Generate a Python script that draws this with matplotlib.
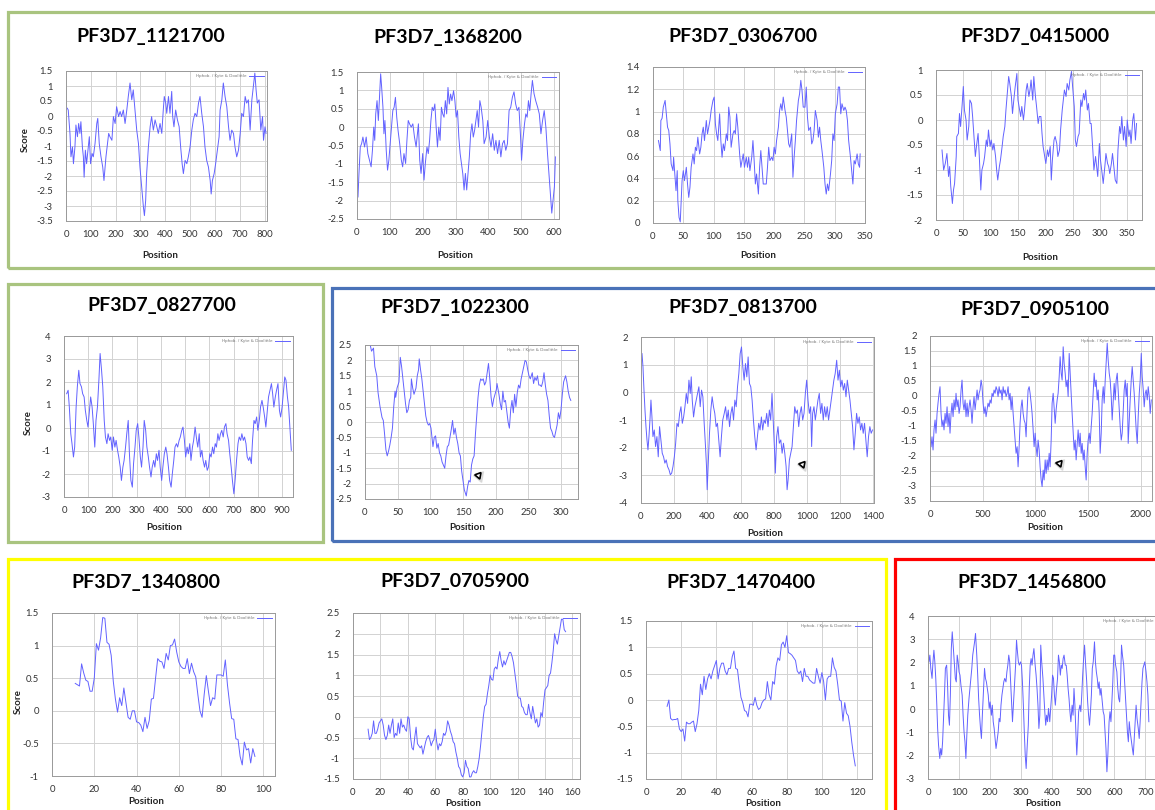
import matplotlib
matplotlib.use("Agg")
import matplotlib.pyplot as plt
from matplotlib.patches import Rectangle
from matplotlib.lines import Line2D

plt.rcParams["font.family"] = ["Lato", "DejaVu Sans"]
plt.rcParams["axes.unicode_minus"] = False

# Kyte & Doolittle hydropathy profiles
pos_1121700 = [5, 9, 16, 20, 26, 30, 36, 40, 46, 51, 56, 60, 66, 70, 73, 78, 83, 90, 94, 99,
               105, 110, 117, 124, 128, 134, 141, 148, 153, 161, 167, 172, 177, 185, 191, 198, 204, 212, 218, 224,
               231, 238, 245, 251, 258, 265, 271, 278, 285, 292, 298, 305, 312, 316, 321, 325, 332, 339, 345, 352,
               359, 366, 372, 379, 386, 392, 396, 402, 406, 413, 419, 426, 430, 435, 442, 449, 456, 462, 468, 473,
               480, 487, 493, 500, 507, 513, 520, 527, 534, 540, 547, 554, 560, 567, 574, 581, 585, 590, 597, 603,
               610, 617, 621, 628, 634, 641, 648, 655, 661, 668, 675, 681, 688, 695, 702, 708, 715, 722, 728, 735,
               742, 749, 755, 761, 766, 771, 778, 785, 792, 796, 802, 806]
kd_1121700 = [0.26, 0.20, -0.58, -1.36, -1.03, -1.59, -1.03, -0.30, -0.69, -0.25, -0.58, -0.19, -1.03, -1.36, -2.04, -1.14, -1.59, -1.03, -0.69, -1.59,
              -1.25, -1.36, -0.92, -0.25, -0.08, -0.92, -1.36, -1.70, -2.15, -1.36, -0.92, -0.58, -0.69, -0.81, -0.02, -0.25, 0.31, -0.02, 0.15, -0.02,
              0.20, -0.25, 0.20, 0.65, 1.10, 0.54, 0.87, 0.20, -0.47, -0.92, -1.70, -2.37, -3.04, -3.32, -2.82, -1.92, -1.03, -0.36, -0.02, -0.47,
              -0.13, -0.36, -0.58, -0.25, -0.58, 0.20, 0.65, 0.43, 0.09, 0.65, 0.09, 0.82, -0.02, -0.36, 0.20, -0.13, -0.36, -1.03, -1.59, -1.92,
              -1.48, -1.59, -1.36, -1.03, -0.47, -0.13, 0.09, -0.02, 0.43, 0.65, 0.09, -0.36, -1.03, -1.48, -1.70, -2.15, -2.60, -2.15, -1.92, -1.59,
              -1.14, -0.69, 0.20, 0.54, 1.10, 0.65, 0.31, -0.36, -0.81, -0.47, -0.58, -1.03, -1.36, -1.14, -0.58, 0.09, -0.02, 0.65, 0.43, 0.54,
              -0.47, 0.54, 0.98, 1.43, 0.87, 0.43, 0.54, -0.47, -0.02, -0.81, -0.36, -0.58]

pos_1368200 = [3, 6, 10, 14, 18, 23, 28, 33, 38, 43, 47, 51, 54, 57, 61, 65, 69, 72, 75, 79,
               82, 85, 89, 93, 97, 101, 105, 109, 113, 117, 121, 125, 130, 135, 139, 143, 148, 152, 156, 160,
               165, 170, 175, 180, 184, 187, 191, 195, 200, 204, 208, 213, 217, 221, 225, 229, 233, 237, 241, 245,
               249, 253, 257, 261, 265, 269, 273, 277, 281, 285, 289, 294, 298, 302, 306, 310, 314, 318, 322, 326,
               330, 334, 338, 342, 346, 350, 354, 358, 362, 366, 370, 374, 378, 383, 387, 393, 398, 403, 408, 413,
               418, 423, 428, 433, 438, 443, 448, 453, 458, 463, 468, 473, 478, 483, 488, 493, 498, 501, 505, 510,
               514, 518, 522, 526, 530, 534, 539, 544, 550, 555, 560, 565, 570, 575, 580, 585, 590, 593, 597, 601, 604]
kd_1368200 = [-1.90, -1.26, -0.54, -0.45, -0.27, -0.54, -0.27, -0.72, -0.90, -1.08, -0.63, 0.0, -0.36, 0.36, 0.72, 0.18, 0.90, 1.45, 1.09, 0.54,
              -0.18, 0.18, -0.63, -1.17, -0.90, -0.45, 0.0, 0.45, 0.54, 0.81, 0.27, -0.09, -0.45, -0.90, -1.08, -0.72, -0.99, -0.36, 0.18, 0.09,
              0.0, 0.09, -0.27, -0.54, -0.18, 0.09, -0.90, -1.26, -0.72, -1.44, -0.99, -0.54, -0.72, -0.36, 0.18, 0.54, 0.45, 0.63, 0.0, -0.54,
              0.0, -0.36, 0.54, 0.36, 0.27, 0.72, 0.36, 1.08, 0.63, 0.90, 0.72, 0.99, 0.72, 0.27, 0.45, -0.27, -0.72, -0.99, -1.26, -1.71,
              -1.26, -1.71, -1.26, -0.81, -0.18, 0.09, -0.27, -0.09, 0.18, 0.45, 0.0, 0.72, 0.54, 0.18, -0.45, -0.27, 0.18, -0.27, -0.54, -0.18,
              -0.63, -0.36, -0.72, -0.36, -0.81, -0.45, -0.36, -0.63, -0.45, 0.45, 0.54, 0.81, 0.96, 0.63, 0.45, 0.54, -0.27, -0.90, -0.36, 0.09,
              0.36, 0.27, 0.72, 0.45, 0.90, 1.27, 0.91, 0.72, 0.54, 0.36, -0.18, 0.18, 0.45, 0.0, -0.72, -1.35, -1.98, -2.34, -1.98, -1.62, -0.81]

pos_0306700 = [9, 12, 13, 15, 17, 20, 21, 24, 26, 28, 30, 33, 34, 36, 38, 40, 41, 43, 45, 46,
               48, 50, 52, 55, 57, 59, 61, 63, 66, 68, 70, 72, 74, 77, 79, 81, 83, 85, 88, 90,
               92, 94, 96, 99, 101, 103, 105, 107, 110, 112, 114, 116, 118, 121, 123, 125, 127, 129, 132, 134,
               136, 138, 140, 143, 145, 147, 149, 151, 154, 156, 158, 160, 163, 165, 167, 169, 171, 174, 176, 178,
               180, 182, 185, 187, 189, 191, 193, 196, 198, 200, 202, 204, 207, 209, 211, 213, 215, 218, 220, 222,
               224, 226, 229, 231, 233, 235, 237, 240, 242, 244, 246, 248, 251, 253, 255, 257, 260, 262, 264, 266,
               268, 271, 273, 275, 277, 279, 282, 284, 286, 288, 290, 293, 295, 297, 299, 301, 304, 306, 308, 310,
               312, 315, 317, 319, 321, 323, 326, 328, 330, 332, 334, 337, 339, 341, 342]
kd_0306700 = [0.74, 0.65, 0.92, 0.94, 1.04, 1.10, 1.04, 0.86, 0.83, 0.71, 0.53, 0.47, 0.59, 0.44, 0.29, 0.47, 0.20, 0.05, 0.01, 0.14,
              0.38, 0.47, 0.38, 0.50, 0.35, 0.23, 0.32, 0.50, 0.62, 0.53, 0.68, 0.65, 0.77, 0.62, 0.68, 0.80, 0.86, 0.74, 0.92, 0.80,
              0.86, 0.92, 1.01, 1.10, 1.13, 0.89, 0.80, 0.74, 0.98, 0.74, 0.59, 0.71, 0.65, 0.80, 0.74, 1.04, 0.95, 0.68, 0.80, 0.83,
              0.80, 0.98, 0.86, 0.62, 0.50, 0.56, 0.62, 0.50, 0.59, 0.50, 0.59, 0.47, 0.59, 0.74, 0.56, 0.35, 0.44, 0.26, 0.50, 0.65,
              0.50, 0.35, 0.35, 0.35, 0.50, 0.68, 0.56, 0.59, 0.56, 0.68, 0.62, 0.74, 0.86, 1.01, 1.07, 1.01, 1.13, 1.01, 0.95, 0.83,
              0.71, 0.68, 0.80, 0.41, 0.59, 0.74, 0.92, 1.10, 1.16, 1.28, 1.19, 1.04, 1.04, 1.22, 0.95, 0.83, 0.86, 0.71, 0.74, 0.83,
              1.01, 0.92, 0.77, 0.86, 0.74, 0.65, 0.50, 0.35, 0.26, 0.35, 0.29, 0.44, 0.56, 0.80, 0.74, 0.98, 1.07, 1.22, 1.22, 0.98,
              1.07, 1.01, 1.04, 1.01, 0.92, 0.74, 0.59, 0.47, 0.35, 0.56, 0.53, 0.62, 0.53, 0.50, 0.62]

pos_0415000 = [11, 14, 17, 20, 23, 25, 27, 30, 32, 34, 37, 38, 41, 43, 45, 48, 50, 52, 55, 57,
               60, 62, 65, 67, 70, 72, 74, 77, 79, 82, 84, 87, 89, 92, 94, 96, 99, 101, 104, 106,
               109, 111, 113, 116, 118, 121, 123, 126, 128, 131, 133, 135, 138, 140, 143, 145, 148, 150, 153, 155,
               157, 160, 162, 165, 167, 170, 172, 174, 177, 179, 182, 184, 187, 189, 192, 194, 196, 199, 201, 204,
               206, 209, 211, 213, 216, 218, 221, 223, 226, 228, 231, 233, 235, 238, 240, 243, 245, 248, 250, 253,
               255, 257, 260, 262, 265, 267, 270, 272, 274, 277, 279, 282, 284, 287, 289, 292, 294, 296, 299, 301,
               304, 306, 309, 311, 314, 316, 318, 321, 323, 326, 328, 331, 333, 336, 338, 340, 343, 345, 348, 350,
               353, 355, 357, 360, 362, 365, 367]
kd_0415000 = [-0.60, -1.00, -0.87, -0.67, -1.13, -0.93, -1.33, -1.67, -1.40, -1.27, -0.73, -0.33, -0.27, 0.13, -0.13, 0.33, 0.67, 0.20, 0.0, -0.40,
              -0.13, 0.40, 0.33, 0.07, -0.40, -0.73, -0.53, -0.27, -0.67, -1.40, -1.00, -0.87, -0.73, -0.40, -0.53, -0.20, -0.53, -0.40, -0.60, -0.47,
              -0.73, -1.00, -1.20, -0.93, -0.80, -0.53, -0.33, -0.13, 0.20, 0.60, 0.87, 0.73, 0.47, 0.13, 0.47, 0.67, 0.93, 0.40, 0.20, 0.07,
              0.27, 0.0, 0.20, 0.60, 0.73, 0.47, 0.60, 0.80, 0.40, 0.87, 0.47, 0.27, -0.07, 0.07, 0.07, -0.27, -0.53, -0.73, -0.87, -0.60,
              -0.73, -0.53, -1.20, -0.80, -0.40, -0.33, -0.47, -0.73, -0.60, -0.20, 0.20, 0.40, 0.60, 0.47, 0.73, 0.60, 0.80, 0.97, 0.67, 0.27,
              -0.40, -0.53, -0.33, -0.27, 0.40, 0.27, 0.53, 0.40, 0.60, 0.20, 0.33, -0.07, -0.07, -0.60, -1.00, -0.73, -0.93, -1.13, -0.47, -0.80,
              -1.07, -1.27, -0.93, -0.67, -0.87, -0.93, -1.07, -0.87, -0.67, -1.00, -1.20, -1.27, -0.60, -0.13, -0.27, 0.07, -0.40, -0.13, -0.53, 0.0,
              -0.33, -0.20, -0.47, 0.0, 0.13, -0.40, -0.07]

pos_0827700 = [11, 17, 22, 28, 33, 39, 44, 50, 55, 61, 66, 72, 77, 83, 88, 94, 99, 105, 110, 116,
               121, 127, 132, 138, 144, 149, 155, 160, 166, 171, 177, 182, 188, 193, 199, 204, 210, 215, 221, 226,
               232, 237, 243, 248, 254, 259, 265, 270, 276, 282, 287, 293, 298, 304, 309, 315, 320, 326, 331, 337,
               342, 348, 353, 359, 364, 370, 375, 381, 386, 392, 397, 403, 408, 414, 420, 425, 431, 436, 442, 447,
               453, 458, 464, 469, 475, 480, 486, 491, 497, 502, 508, 513, 519, 524, 530, 535, 541, 546, 552, 558,
               563, 569, 574, 580, 585, 591, 596, 602, 607, 613, 618, 624, 629, 635, 640, 646, 651, 657, 662, 668,
               673, 679, 684, 690, 695, 701, 706, 712, 718, 723, 729, 734, 740, 745, 751, 756, 762, 767, 773, 778,
               784, 789, 795, 800, 806, 811, 817, 822, 828, 833, 839, 844, 850, 856, 861, 866, 872, 877, 883, 889,
               894, 900, 905, 911, 916, 922, 927, 933, 938]
kd_0827700 = [1.49, 1.64, 0.91, -0.25, -0.68, -1.26, -0.83, 0.91, 1.79, 2.51, 1.93, 1.79, 1.49, 1.35, 0.77, 0.33, 0.04, 0.77, 1.35, 0.91,
              0.19, -0.83, 0.33, 0.91, 2.08, 3.24, 2.51, 1.79, 0.33, -0.39, -0.68, -0.25, -0.54, -0.39, -0.97, -0.39, -0.83, -0.54, -0.97, -1.26,
              -1.70, -2.28, -1.70, -1.41, -0.83, -0.25, 0.33, -1.12, -2.28, -2.57, -1.55, -0.83, -0.10, 0.19, -0.39, -1.26, -1.70, -0.83, 0.33, -0.10,
              -0.83, -1.26, -1.70, -2.13, -1.70, -1.41, -1.70, -1.12, -1.41, -0.97, -1.70, -2.28, -1.70, -1.12, -0.83, -1.12, -1.70, -2.28, -2.57, -1.99,
              -1.41, -0.83, -0.68, -0.83, -0.54, -0.39, -0.10, 0.04, -0.54, -1.26, -0.83, -1.12, -0.68, -1.41, -0.83, -0.54, 0.04, -0.39, -0.83, -0.25,
              -1.26, -0.97, -1.41, -1.70, -1.41, -1.84, -1.70, -1.12, -1.26, -0.83, -1.12, -0.68, -0.83, -0.25, -0.54, -0.25, -0.10, -0.39, 0.04, 0.19,
              -0.25, -0.54, -1.12, -1.70, -2.28, -2.86, -2.28, -1.41, -0.68, -0.39, -0.54, -0.25, -0.54, -0.39, -0.68, -1.26, -1.41, -1.26, -1.55, -0.54,
              0.33, 0.19, 0.48, -0.10, 0.33, 0.91, 1.20, 0.91, 0.48, 0.04, 0.77, 1.35, 1.64, 1.93, 1.49, 0.91, 1.35, 1.64, 1.93, 0.77,
              0.48, 0.91, 1.49, 2.22, 2.08, 1.35, 0.91, -0.10, -0.97]

pos_1022300 = [8, 10, 13, 15, 18, 20, 23, 26, 28, 30, 32, 34, 36, 38, 40, 42, 44, 46, 47, 49,
               52, 54, 56, 58, 60, 62, 64, 66, 68, 70, 71, 73, 75, 78, 80, 82, 83, 85, 87, 89,
               91, 93, 95, 97, 99, 101, 104, 106, 108, 110, 112, 114, 116, 118, 120, 122, 124, 126, 128, 130,
               132, 134, 136, 138, 140, 142, 144, 146, 148, 150, 152, 155, 157, 159, 161, 163, 165, 167, 169, 171,
               173, 175, 177, 179, 181, 183, 185, 187, 189, 191, 193, 195, 197, 199, 201, 202, 205, 207, 209, 211,
               213, 215, 217, 219, 221, 223, 225, 227, 229, 231, 233, 235, 237, 239, 241, 243, 245, 247, 249, 251,
               253, 256, 258, 260, 262, 264, 266, 268, 270, 272, 274, 276, 278, 280, 282, 284, 286, 288, 290, 292,
               294, 296, 298, 300, 302, 304, 307, 309, 311, 313, 315]
kd_1022300 = [2.50, 2.30, 2.40, 1.80, 1.50, 0.95, 0.50, 0.15, 0.05, -0.40, -0.90, -1.10, -0.95, -0.75, -0.50, -0.20, 0.50, 1.00, 0.80, 1.10,
              1.30, 2.10, 1.80, 1.40, 1.00, 0.60, 0.30, 0.40, 0.70, 0.80, 1.40, 1.10, 0.90, 1.10, 1.50, 1.70, 2.05, 1.70, 1.40, 1.00,
              0.60, 0.20, 0.00, -0.10, -0.05, -0.20, -0.80, -0.50, -0.45, -0.85, -0.70, -1.00, -1.10, -1.30, -1.40, -1.50, -1.10, -0.80, -0.75, -0.50,
              -0.25, 0.05, -0.40, -0.20, -0.50, -0.70, -1.00, -1.10, -1.60, -1.90, -2.20, -2.40, -2.10, -1.90, -1.95, -1.40, -1.20, -1.10, -0.40, 0.20,
              0.80, 1.20, 1.40, 1.35, 1.40, 1.20, 1.30, 1.60, 1.90, 1.40, 0.80, 0.50, 0.75, 0.90, 1.05, 1.25, 0.90, 0.60, 0.40, 1.00,
              0.65, 0.70, 0.35, 0.00, -0.20, 0.40, 0.70, 0.30, 0.90, 0.50, 0.95, 1.20, 1.10, 1.40, 1.60, 1.80, 2.00, 1.95, 1.70, 1.50,
              1.40, 1.60, 1.25, 1.45, 1.35, 1.50, 1.20, 1.20, 1.15, 1.30, 1.60, 1.20, 0.90, 0.70, 0.20, -0.20, -0.30, -0.45, -0.50, -0.30,
              -0.10, 0.30, 0.10, 0.40, 0.90, 1.30, 1.50, 1.30, 1.00, 0.80, 0.70]

pos_0813700 = [6, 12, 18, 24, 30, 36, 42, 48, 54, 60, 66, 72, 80, 88, 96, 104, 112, 120, 128, 136,
               144, 152, 160, 169, 177, 185, 193, 201, 209, 217, 225, 233, 241, 249, 257, 265, 273, 281, 289, 297,
               303, 309, 317, 325, 333, 341, 349, 357, 365, 373, 381, 389, 395, 399, 405, 413, 421, 429, 437, 445,
               453, 461, 469, 477, 485, 493, 502, 510, 518, 526, 534, 542, 550, 558, 566, 574, 582, 590, 598, 606,
               614, 622, 630, 638, 646, 654, 662, 670, 678, 686, 694, 702, 710, 718, 726, 734, 742, 750, 758, 766,
               774, 782, 790, 798, 806, 810, 818, 826, 834, 843, 851, 859, 867, 875, 881, 887, 895, 903, 911, 919,
               927, 935, 943, 951, 959, 967, 975, 983, 991, 999, 1007, 1015, 1023, 1029, 1035, 1043, 1051, 1059, 1067, 1075,
               1083, 1091, 1099, 1107, 1115, 1123, 1131, 1139, 1147, 1155, 1163, 1171, 1180, 1188, 1196, 1204, 1212, 1220, 1228, 1236,
               1244, 1252, 1260, 1268, 1276, 1284, 1292, 1300, 1308, 1316, 1324, 1332, 1340, 1348, 1356, 1364, 1372, 1380, 1388, 1396]
kd_0813700 = [1.40, 0.92, 0.08, -0.64, -1.24, -1.72, -2.08, -1.60, -1.00, -0.28, -0.89, -1.60, -1.36, -1.96, -1.60, -2.33, -1.24, -1.72, -2.20, -2.33,
              -2.56, -2.44, -2.68, -2.80, -2.98, -2.92, -2.68, -2.33, -1.84, -1.12, -1.24, -0.76, -0.52, -1.12, -0.89, -0.52, -0.04, -0.40, 0.44, -0.04,
              0.56, -0.28, -0.89, -0.52, -0.28, -0.04, 0.20, -0.52, 0.08, -0.16, -1.12, -1.96, -2.68, -3.52, -2.68, -1.48, -0.64, -0.16, -0.52, -0.76,
              -1.24, -1.12, -1.72, -2.33, -1.60, -1.00, -0.76, -0.52, -1.00, -0.64, -1.24, -0.76, -0.52, -1.00, -0.28, -0.52, 0.20, 0.68, 1.40, 1.64,
              0.92, 0.44, 1.04, 0.56, 1.28, 0.32, 0.20, -0.28, -1.00, -1.60, -2.08, -1.60, -1.12, -1.36, -0.89, -1.36, -1.00, -1.12, -0.76, -1.24,
              -0.64, -1.00, -0.04, -1.12, -2.20, -2.92, -1.60, -1.24, -1.84, -1.72, -2.20, -1.84, -2.20, -2.68, -3.52, -3.16, -2.44, -2.20, -1.96, -1.24,
              -0.52, -0.76, -0.64, -1.24, -0.76, -0.52, -1.00, -0.76, -0.04, 0.44, -0.28, -0.76, -0.52, -1.96, -0.76, -0.52, -1.00, -0.64, -0.28, -0.04,
              -0.76, -0.40, -1.00, -0.52, -0.89, -0.52, -1.00, -0.64, -0.28, 0.08, 0.44, 0.68, 1.16, 0.44, 0.80, 0.20, 0.44, 0.08, 0.32, -0.16,
              0.44, 0.08, -0.28, -0.76, -1.24, -2.08, -1.48, -0.76, -1.12, -0.89, -1.36, -1.12, -1.48, -1.12, -1.72, -2.33, -1.60, -1.24, -1.48, -1.36]

pos_0905100 = [10, 19, 29, 38, 48, 57, 67, 76, 86, 95, 105, 114, 124, 133, 143, 152, 162, 171, 181, 190,
               200, 209, 219, 228, 238, 247, 257, 266, 276, 285, 295, 304, 314, 323, 333, 342, 352, 361, 371, 380,
               390, 399, 409, 418, 428, 437, 447, 456, 466, 475, 485, 494, 504, 513, 523, 532, 542, 551, 561, 570,
               580, 589, 599, 608, 618, 627, 637, 646, 656, 665, 675, 684, 694, 703, 713, 722, 732, 741, 751, 760,
               770, 779, 789, 798, 808, 817, 827, 836, 846, 855, 865, 874, 884, 893, 903, 912, 922, 931, 941, 950,
               960, 969, 979, 988, 998, 1007, 1017, 1026, 1036, 1045, 1055, 1064, 1074, 1083, 1093, 1102, 1112, 1121, 1131, 1140,
               1150, 1159, 1169, 1178, 1188, 1197, 1207, 1216, 1226, 1235, 1245, 1254, 1264, 1273, 1283, 1292, 1302, 1311, 1321, 1330,
               1340, 1349, 1359, 1368, 1378, 1387, 1397, 1406, 1416, 1425, 1435, 1444, 1454, 1463, 1473, 1482, 1492, 1501, 1511, 1520,
               1530, 1539, 1549, 1558, 1568, 1577, 1587, 1596, 1606, 1615, 1625, 1634, 1644, 1653, 1663, 1672, 1682, 1691, 1701, 1710,
               1720, 1729, 1739, 1748, 1758, 1767, 1777, 1786, 1796, 1805, 1815, 1824, 1834, 1843, 1853, 1862, 1872, 1881, 1891, 1900,
               1910, 1919, 1929, 1938, 1948, 1957, 1967, 1976, 1986, 1995, 2005, 2014, 2024, 2033, 2043, 2052, 2062, 2071, 2081, 2090,
               2100]
kd_0905100 = [-1.69, -1.36, -1.80, -1.13, -0.80, -1.24, -0.58, -0.24, 0.09, 0.31, -0.58, -1.02, -0.80, -1.13, -0.58, -0.91, -0.36, -1.02, -0.58, -1.24,
              -0.58, -0.24, -0.69, -0.13, -0.46, 0.09, -0.36, -0.13, -0.58, -0.36, 0.20, 0.53, -0.24, -0.46, -0.13, -0.69, -0.24, -0.69, -0.36, -0.13,
              -0.46, -0.91, -0.36, -0.02, -0.46, -0.13, 0.20, -0.13, 0.09, 0.20, 0.53, 0.31, -0.24, -0.58, -0.36, -0.69, -0.46, -0.24, -0.36, -0.13,
              -0.24, 0.09, -0.02, 0.20, 0.09, 0.31, 0.20, -0.02, 0.31, 0.09, 0.20, -0.13, 0.31, 0.09, 0.20, -0.02, 0.09, 0.31, -0.13, 0.09,
              -0.46, -0.02, -0.58, -1.02, -1.47, -1.91, -1.69, -2.36, -1.69, -0.91, -0.36, -0.13, -0.58, -0.80, -0.91, -1.36, -0.46, 0.20, 0.31, 0.09,
              -0.24, -0.58, -1.13, -1.69, -1.24, -1.69, -2.02, -1.47, -1.80, -2.36, -2.80, -3.02, -2.47, -2.80, -2.13, -2.58, -2.13, -2.47, -1.91, -2.36,
              -1.47, -0.24, 0.09, -0.36, -0.91, -0.46, -0.13, 0.09, 0.64, 1.31, 0.76, 0.53, 1.64, 1.09, 0.76, 0.31, 0.53, -0.02, 1.42, 0.76,
              -0.02, -0.58, -1.24, -1.80, -1.47, -2.13, -1.58, -1.13, -1.69, -1.24, -1.91, -1.58, -2.13, -1.80, -2.36, -2.80, -1.91, -1.47, -1.24, -1.58,
              -1.02, -0.58, 0.09, 0.76, 0.31, 0.53, -0.13, 0.20, -0.58, -1.91, -1.24, -0.13, 0.31, -0.24, 0.53, 1.09, 1.76, 1.20, 0.76, 0.53,
              -0.02, -0.80, -0.13, 0.42, -0.13, 0.53, 0.76, 0.20, -0.46, -1.02, -1.47, -1.24, -0.46, 0.20, 0.53, -0.02, 0.42, -1.58, -0.80, -0.13,
              0.53, 0.98, 0.53, 0.09, -0.58, -1.13, -1.58, -0.69, 0.09, 0.53, 1.42, 0.64, 0.20, -0.36, 0.09, 0.20, -0.13, 0.31, -0.02, -0.58,
              -0.13]

pos_1340800 = [11, 12, 13, 14, 15, 16, 17, 18, 19, 20, 21, 22, 23, 24, 25, 26, 27, 28, 29, 30,
               31, 32, 33, 34, 35, 36, 37, 38, 39, 40, 41, 42, 43, 44, 45, 46, 47, 48, 49, 50,
               51, 52, 53, 54, 55, 56, 57, 58, 59, 60, 61, 62, 63, 64, 65, 66, 67, 68, 69, 70,
               71, 72, 73, 74, 75, 76, 77, 78, 79, 80, 81, 82, 83, 84, 85, 86, 87, 88, 89, 90,
               91, 92, 93, 94, 95, 96]
kd_1340800 = [0.42, 0.40, 0.38, 0.72, 0.58, 0.47, 0.45, 0.30, 0.30, 0.50, 1.03, 0.93, 1.12, 1.43, 1.42, 1.05, 1.02, 0.85, 0.45, 0.18,
              -0.02, 0.20, 0.08, 0.35, 0.12, -0.10, -0.13, 0.0, 0.0, -0.17, -0.18, -0.22, -0.32, -0.10, -0.27, -0.15, 0.18, 0.19, 0.50, 0.80,
              0.76, 0.75, 0.65, 0.88, 0.78, 1.00, 1.01, 1.10, 0.90, 0.75, 0.68, 0.65, 0.65, 0.80, 0.57, 0.73, 0.60, 0.52, 0.25, 0.0,
              -0.10, 0.25, 0.54, 0.30, 0.08, 0.20, 0.18, 0.55, 0.55, 0.55, 0.53, 0.78, 0.40, 0.12, -0.12, -0.13, -0.43, -0.44, -0.70, -0.83,
              -0.48, -0.60, -0.58, -0.80, -0.58, -0.70]

pos_0705900 = [11, 12, 13, 14, 15, 16, 17, 18, 19, 20, 21, 22, 23, 24, 25, 26, 27, 28, 29, 30,
               31, 32, 33, 34, 35, 36, 37, 38, 39, 40, 41, 42, 43, 44, 45, 46, 47, 48, 49, 50,
               51, 52, 53, 54, 55, 56, 57, 58, 59, 60, 61, 62, 63, 64, 65, 66, 67, 68, 69, 70,
               71, 72, 73, 74, 75, 76, 77, 78, 79, 80, 81, 82, 83, 84, 85, 86, 87, 88, 89, 90,
               91, 92, 93, 94, 95, 96, 97, 98, 99, 100, 101, 102, 103, 104, 105, 106, 107, 108, 109, 110,
               111, 112, 113, 114, 115, 116, 117, 118, 119, 120, 121, 122, 123, 124, 125, 126, 127, 128, 129, 130,
               131, 132, 133, 134, 135, 136, 137, 138, 139, 140, 141, 142, 143, 144, 145, 146, 147, 148, 149, 150,
               151, 152, 153, 154, 155]
kd_0705900 = [-0.30, -0.55, -0.50, -0.40, -0.10, -0.40, -0.40, -0.30, -0.15, -0.10, -0.05, -0.20, -0.45, -0.55, -0.45, -0.20, -0.40, -0.20, -0.05, -0.50,
              -0.40, -0.45, -0.15, -0.40, -0.05, -0.25, -0.20, -0.30, -0.35, 0.0, -0.05, -0.50, -0.75, -0.80, -0.50, -0.25, -0.65, -0.70, -0.75, -0.70,
              -0.90, -0.75, -0.60, -0.50, -0.45, -0.55, -0.70, -0.60, -0.55, -0.30, -0.60, -0.80, -0.65, -0.70, -0.60, -0.40, -0.45, -0.35, -0.10, -0.20,
              -0.35, -0.45, -0.60, -0.65, -0.85, -1.00, -1.20, -1.25, -1.40, -1.45, -1.35, -1.05, -1.20, -1.25, -1.45, -1.45, -1.35, -1.30, -1.35, -1.35,
              -1.20, -1.00, -0.70, -0.35, 0.0, 0.25, 0.30, 0.55, 0.75, 1.00, 0.90, 0.88, 1.15, 1.20, 1.15, 1.40, 1.57, 1.35, 1.20, 1.35,
              1.25, 1.35, 1.45, 1.55, 1.55, 1.45, 1.30, 1.05, 0.80, 0.50, 0.45, 0.45, 0.25, 0.22, 0.10, 0.05, 0.05, 0.30, 0.10, -0.05,
              0.25, 0.05, -0.15, -0.05, -0.25, -0.20, 0.10, 0.0, 0.35, 0.65, 0.70, 0.75, 1.00, 1.05, 1.30, 1.60, 2.00, 1.85, 1.75, 1.95,
              2.15, 2.35, 2.35, 2.10, 2.05]

pos_1470400 = [12, 13, 14, 15, 16, 17, 18, 19, 20, 21, 22, 23, 24, 25, 26, 27, 28, 29, 30, 31,
               32, 33, 34, 35, 36, 37, 38, 39, 40, 41, 42, 43, 44, 45, 46, 47, 48, 49, 50, 51,
               52, 53, 54, 55, 56, 57, 58, 59, 60, 61, 62, 63, 64, 65, 66, 67, 68, 69, 70, 71,
               72, 73, 74, 75, 76, 77, 78, 79, 80, 81, 82, 83, 84, 85, 86, 87, 88, 89, 90, 91,
               92, 93, 94, 95, 96, 97, 98, 99, 100, 101, 102, 103, 104, 105, 106, 107, 108, 109, 110, 111,
               112, 113, 114, 115, 116, 117, 118, 119]
kd_1470400 = [-0.12, 0.0, -0.35, -0.38, -0.37, -0.37, -0.35, -0.55, -0.60, -0.55, -0.78, -0.42, -0.45, -0.45, -0.42, -0.40, -0.60, -0.45, -0.20, 0.30,
              0.10, 0.45, 0.20, 0.40, 0.50, 0.40, 0.55, 0.65, 0.75, 0.40, 0.60, 0.70, 0.70, 0.55, 0.48, 0.60, 0.60, 0.82, 0.93, 0.60,
              0.58, 0.30, 0.05, -0.05, -0.20, -0.22, -0.32, -0.08, -0.08, -0.10, 0.05, -0.10, -0.18, -0.15, -0.05, 0.0, 0.02, 0.35, 0.10, 0.0,
              0.35, 0.30, 0.65, 0.80, 0.75, 1.05, 1.10, 1.00, 1.22, 0.90, 0.88, 0.85, 0.80, 0.75, 0.55, 0.50, 0.55, 0.35, 0.60, 0.45,
              0.45, 0.38, 0.35, 0.32, 0.32, 0.60, 0.45, 0.32, 0.52, 0.35, 0.0, 0.40, 0.45, 0.45, 0.80, 0.62, 0.55, 0.30, 0.0, -0.02,
              -0.40, -0.05, -0.25, -0.30, -0.50, -0.80, -1.05, -1.25]

pos_1456800 = [3, 6, 9, 13, 16, 19, 22, 25, 28, 31, 34, 38, 41, 44, 47, 50, 53, 56, 60, 63,
               66, 69, 72, 75, 78, 81, 85, 88, 91, 94, 97, 100, 103, 106, 110, 113, 116, 119, 122, 125,
               128, 132, 135, 138, 141, 144, 147, 150, 153, 157, 160, 163, 166, 169, 172, 175, 179, 182, 185, 188,
               191, 194, 197, 200, 204, 207, 210, 213, 216, 219, 222, 226, 229, 232, 235, 238, 241, 244, 247, 251,
               254, 257, 260, 263, 266, 269, 272, 276, 279, 282, 285, 288, 291, 294, 298, 301, 304, 307, 310, 313,
               316, 319, 323, 326, 329, 332, 335, 338, 341, 345, 348, 351, 354, 357, 360, 363, 366, 370, 373, 376,
               379, 382, 385, 388, 392, 395, 398, 401, 404, 407, 410, 413, 417, 420, 423, 426, 429, 432, 435, 438,
               442, 445, 448, 451, 454, 457, 460, 464, 467, 470, 473, 476, 479, 482, 485, 489, 492, 495, 498, 501,
               504, 507, 511, 514, 517, 520, 523, 526, 529, 532, 536, 539, 542, 545, 548, 551, 554, 557, 561, 564,
               567, 570, 573, 576, 579, 583, 586, 589, 592, 595, 598, 601, 604, 608, 611, 614, 617, 620, 623, 626,
               630, 633, 636, 639, 642, 645, 648, 651, 655, 658, 661, 664, 667, 670, 673, 677, 680, 683, 686, 689,
               692, 695, 698, 702, 705, 708, 711]
kd_1456800 = [2.03, 2.32, 1.75, 1.32, 2.03, 2.53, 2.03, 1.32, 0.31, -0.83, -1.55, -2.12, -1.69, -1.97, -1.40, -0.40, 0.60, 1.75, 1.89, 1.03,
              -0.26, -0.69, 0.60, 2.60, 3.32, 2.75, 1.89, 1.32, 1.17, 2.32, 2.03, 1.60, 1.46, 1.03, 0.60, -0.26, -0.97, -1.40, -2.12, -1.12,
              -0.26, 0.46, 0.89, 1.32, 1.75, 2.32, 2.60, 2.89, 3.25, 2.32, 1.46, 0.46, -0.26, -0.83, -1.26, -0.26, 0.89, 1.75, 1.32, 1.17,
              0.89, 0.60, 0.03, 0.31, -0.26, 0.17, -0.54, -0.83, -1.26, -1.69, -1.40, -0.97, -0.40, -0.54, 0.17, 0.60, 0.89, 1.17, 1.32, 1.17,
              1.60, 1.89, 2.32, 2.03, 1.17, 0.31, -0.54, 0.46, 1.17, 1.89, 2.96, 2.46, 2.03, 1.89, 2.03, 1.89, 1.17, 0.17, -0.97, -1.97,
              -2.55, -1.69, -0.69, 0.89, 1.89, 2.17, 1.89, 2.32, 2.60, 1.89, 1.46, 0.89, 0.17, -0.83, -0.26, 2.75, 2.03, 1.32, 0.60, -0.11,
              -0.69, -0.26, -0.54, 0.03, -0.54, 0.03, 0.60, 1.46, 1.32, 0.60, 0.17, 0.74, 1.32, 2.32, 2.03, 1.46, 1.89, 1.75, 2.17, 2.32,
              1.89, 1.89, 1.46, 0.89, 0.46, -0.11, -0.54, 0.17, -0.26, 0.89, 0.17, -0.97, -1.97, -1.12, -0.11, 0.17, -0.11, 0.60, 1.46, 2.17,
              2.75, 2.03, 1.17, 0.31, -0.26, -0.69, -0.11, 0.60, 1.75, 2.03, 2.89, 2.03, 1.60, 1.32, 0.89, 1.17, 0.60, 0.89, 0.31, -0.11,
              -0.26, -0.97, -1.69, -2.69, -1.97, -0.54, -0.11, -0.54, 0.31, 1.17, 2.32, 2.32, 1.89, 1.60, 0.89, 0.46, 0.31, 1.17, 2.75, 2.32,
              1.89, 1.17, 0.46, -0.26, -0.97, -1.40, -0.54, -0.97, -1.40, -1.69, -1.97, -1.26, -0.54, 0.17, -0.40, -0.83, -1.26, -0.54, 0.31, 1.17,
              1.75, 1.89, 2.03, 1.60, 1.17, 0.60, -0.54]

W, H = 1155, 810
LINE_COLOR = "#6262ff"


def fx(px):
    return px / W


def fy(py):
    return 1 - py / H


def fmt(v):
    return f"{v:g}"


def add_panel(fig, name, x, y, box, xlim, ylim, xticks, yticks, title_xy, pos_xy,
              score_xy=None, ylabels=None):
    l, t, r, b = box
    ax = fig.add_axes([fx(l), fy(b), (r - l) / W, (b - t) / H])
    ax.plot(x, y, color=LINE_COLOR, lw=0.7, label="Hphob. / Kyte & Doolittle")
    ax.set_xlim(*xlim)
    ax.set_ylim(*ylim)
    ax.set_xticks(xticks)
    ax.set_yticks(yticks)
    ax.set_xticklabels([fmt(v) for v in xticks])
    ax.set_yticklabels(ylabels if ylabels else [fmt(v) for v in yticks])
    ax.set_axisbelow(True)
    ax.grid(True, color="#d2d2d2", lw=0.7)
    ax.tick_params(length=0, labelsize=6.8, colors="#333333")
    ax.tick_params(axis="x", pad=6.5)
    ax.tick_params(axis="y", pad=9.5)
    for s in ax.spines.values():
        s.set_color("#9a9a9a")
        s.set_linewidth(0.7)
    ax.legend(loc="upper right", frameon=False, markerfirst=False,
              handlelength=3.4, borderaxespad=0.4, labelcolor="#777777",
              prop={"family": "DejaVu Sans", "size": 3})
    fig.text(fx(title_xy[0]), fy(title_xy[1]), name, ha="center", va="baseline",
             fontsize=14, fontweight="bold", color="black")
    fig.text(fx(pos_xy[0]), fy(pos_xy[1]), "Position", ha="center", va="center",
             fontsize=7, fontweight="bold", color="#222222")
    if score_xy:
        fig.text(fx(score_xy[0]), fy(score_xy[1]), "Score", ha="center", va="center",
                 rotation=90, fontsize=7, fontweight="bold", color="#222222")
    return ax


def frame(fig, l, t, r, b, color):
    fig.add_artist(Rectangle((fx(l), fy(b)), (r - l) / W, (b - t) / H,
                             transform=fig.transFigure, fill=False,
                             edgecolor=color, lw=2.3))


def cursor(fig, px, py):
    fig.add_artist(Line2D([fx(px + 1)], [fy(py + 1)], transform=fig.transFigure,
                          marker=(3, 0, 200), ms=9, color="#cccccc", alpha=0.6, lw=0))
    fig.add_artist(Line2D([fx(px)], [fy(py)], transform=fig.transFigure,
                          marker=(3, 0, 200), ms=5.5, markerfacecolor="white",
                          markeredgecolor="black", mew=1.2, lw=0))


fig = plt.figure(figsize=(W / 100, H / 100), dpi=100)
fig.patch.set_facecolor("white")

frame(fig, 8, 12, 1162, 268, "#a9c47f")
frame(fig, 8, 284, 323, 542, "#a9c47f")
frame(fig, 332, 288, 1162, 541, "#4a72b8")
frame(fig, 8, 559, 886, 818, "#ffff00")
frame(fig, 895, 559, 1162, 818, "#ff0000")

h = [0.5 * k for k in range(-7, 4)]
add_panel(fig, "PF3D7_1121700", pos_1121700, kd_1121700, (66, 71, 267, 221), (0, 810), (-3.5, 1.5),
          list(range(0, 801, 100)), h, (151, 42), (160, 255), score_xy=(25, 140))
add_panel(fig, "PF3D7_1368200", pos_1368200, kd_1368200, (357, 72, 559, 219), (0, 615), (-2.5, 1.5),
          list(range(0, 601, 100)), [0.5 * k for k in range(-5, 4)], (448, 43), (455, 255))
add_panel(fig, "PF3D7_0306700", pos_0306700, kd_0306700, (653, 67, 865, 223), (0, 350), (0, 1.4),
          list(range(0, 351, 50)), [round(0.2 * k, 1) for k in range(0, 8)], (743, 42), (758, 255))
add_panel(fig, "PF3D7_0415000", pos_0415000, kd_0415000, (936, 70, 1142, 220), (0, 377), (-2, 1),
          list(range(0, 351, 50)), [0.5 * k for k in range(-4, 3)], (1035, 42), (1040, 258))

add_panel(fig, "PF3D7_0827700", pos_0827700, kd_0827700, (64, 336, 293, 497), (0, 945), (-3, 4),
          list(range(0, 901, 100)), list(range(-3, 5)), (162, 311), (164, 527), score_xy=(28, 423))
add_panel(fig, "PF3D7_1022300", pos_1022300, kd_1022300, (365, 345, 578, 499), (0, 326), (-2.5, 2.5),
          list(range(0, 301, 50)), [0.5 * k for k in range(-5, 6)], (455, 313), (467, 527))
add_panel(fig, "PF3D7_0813700", pos_0813700, kd_0813700, (641, 337, 874, 503), (0, 1405), (-4, 2),
          list(range(0, 1401, 200)), list(range(-4, 3)), (743, 313), (765, 533))
y8 = [0.5 * k for k in range(-7, 5)]
add_panel(fig, "PF3D7_0905100", pos_0905100, kd_0905100, (930, 336, 1152, 501), (0, 2107), (-3.5, 2),
          list(range(0, 2001, 500)), y8, (1035, 315), (1045, 528),
          ylabels=["3.5"] + [fmt(v) for v in y8[1:]])

add_panel(fig, "PF3D7_1340800", pos_1340800, kd_1340800, (52, 613, 275, 776), (0, 105.5), (-1, 1.5),
          list(range(0, 101, 20)), [0.5 * k for k in range(-2, 4)], (146, 588), (146, 802), score_xy=(18, 702))
add_panel(fig, "PF3D7_0705900", pos_0705900, kd_0705900, (353, 613, 580, 779), (0, 165.5), (-1.5, 2.5),
          list(range(0, 161, 20)), [0.5 * k for k in range(-3, 6)], (455, 587), (463, 803))
add_panel(fig, "PF3D7_1470400", pos_1470400, kd_1470400, (646, 621, 872, 779), (0, 128.5), (-1.5, 1.5),
          list(range(0, 121, 20)), [0.5 * k for k in range(-3, 4)], (741, 588), (763, 803))
add_panel(fig, "PF3D7_1456800", pos_1456800, kd_1456800, (928, 616, 1174, 779), (0, 792), (-3, 4),
          list(range(0, 701, 100)), list(range(-3, 5)), (1032, 588), (1043, 803))

cursor(fig, 478, 475)
cursor(fig, 802, 464)
cursor(fig, 1059, 463)

fig.savefig("out.png", dpi=100, facecolor="white")
